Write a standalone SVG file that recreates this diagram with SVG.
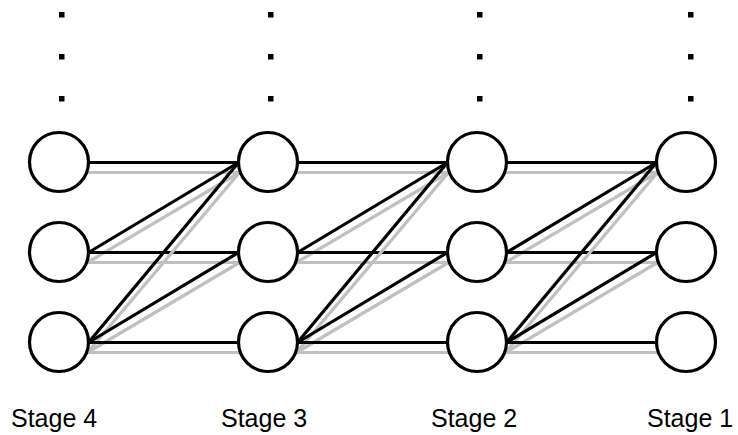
<svg xmlns="http://www.w3.org/2000/svg" width="738" height="435" viewBox="0 0 738 435">
  <style>
    .node { fill: #ffffff; stroke: #000000; stroke-width: 3.2; }
    .k { stroke: #000000; stroke-width: 3.2; fill: none; }
    .g { stroke: #c0c0c0; stroke-width: 3.2; fill: none; }
    .dot { fill: #000000; }
    .label { font-family: "Liberation Sans", Arial, sans-serif; font-size: 25px; fill: #000000; }
  </style>

  <!-- continuation dots above each stage -->
  <g id="dots">
    <rect class="dot" x="59" y="12" width="5.5" height="5.5"/>
    <rect class="dot" x="59" y="54" width="5.5" height="5.5"/>
    <rect class="dot" x="59" y="96" width="5.5" height="5.5"/>
    <rect class="dot" x="268" y="12" width="5.5" height="5.5"/>
    <rect class="dot" x="268" y="54" width="5.5" height="5.5"/>
    <rect class="dot" x="268" y="96" width="5.5" height="5.5"/>
    <rect class="dot" x="477" y="12" width="5.5" height="5.5"/>
    <rect class="dot" x="477" y="54" width="5.5" height="5.5"/>
    <rect class="dot" x="477" y="96" width="5.5" height="5.5"/>
    <rect class="dot" x="688" y="12" width="5.5" height="5.5"/>
    <rect class="dot" x="688" y="54" width="5.5" height="5.5"/>
    <rect class="dot" x="688" y="96" width="5.5" height="5.5"/>
  </g>

  <!-- connectors: black link with grey companion 10px below -->
  <g id="connectors">
    <!-- Stage 4 -> Stage 3 -->
    <line class="k" x1="88.5" y1="162.5" x2="238.5" y2="162.5"/>
    <line class="g" x1="87.5" y1="172.5" x2="239.5" y2="172.5"/>
    <line class="k" x1="88.5" y1="252.5" x2="238.5" y2="162.5"/>
    <line class="g" x1="87.5" y1="262.5" x2="239.5" y2="172.5"/>
    <line class="k" x1="88.5" y1="252.5" x2="238.5" y2="252.5"/>
    <line class="g" x1="87.5" y1="262.5" x2="239.5" y2="262.5"/>
    <line class="k" x1="88.5" y1="342.5" x2="238.5" y2="162.5"/>
    <line class="g" x1="87.5" y1="352.5" x2="239.5" y2="172.5"/>
    <line class="k" x1="88.5" y1="342.5" x2="238.5" y2="252.5"/>
    <line class="g" x1="87.5" y1="352.5" x2="239.5" y2="262.5"/>
    <line class="k" x1="88.5" y1="342.5" x2="238.5" y2="342.5"/>
    <line class="g" x1="87.5" y1="352.5" x2="239.5" y2="352.5"/>

    <!-- Stage 3 -> Stage 2 -->
    <line class="k" x1="297.5" y1="162.5" x2="447.5" y2="162.5"/>
    <line class="g" x1="296.5" y1="172.5" x2="448.5" y2="172.5"/>
    <line class="k" x1="297.5" y1="252.5" x2="447.5" y2="162.5"/>
    <line class="g" x1="296.5" y1="262.5" x2="448.5" y2="172.5"/>
    <line class="k" x1="297.5" y1="252.5" x2="447.5" y2="252.5"/>
    <line class="g" x1="296.5" y1="262.5" x2="448.5" y2="262.5"/>
    <line class="k" x1="297.5" y1="342.5" x2="447.5" y2="162.5"/>
    <line class="g" x1="296.5" y1="352.5" x2="448.5" y2="172.5"/>
    <line class="k" x1="297.5" y1="342.5" x2="447.5" y2="252.5"/>
    <line class="g" x1="296.5" y1="352.5" x2="448.5" y2="262.5"/>
    <line class="k" x1="297.5" y1="342.5" x2="447.5" y2="342.5"/>
    <line class="g" x1="296.5" y1="352.5" x2="448.5" y2="352.5"/>

    <!-- Stage 2 -> Stage 1 -->
    <line class="k" x1="506.5" y1="162.5" x2="656.5" y2="162.5"/>
    <line class="g" x1="505.5" y1="172.5" x2="657.5" y2="172.5"/>
    <line class="k" x1="506.5" y1="252.5" x2="656.5" y2="162.5"/>
    <line class="g" x1="505.5" y1="262.5" x2="657.5" y2="172.5"/>
    <line class="k" x1="506.5" y1="252.5" x2="656.5" y2="252.5"/>
    <line class="g" x1="505.5" y1="262.5" x2="657.5" y2="262.5"/>
    <line class="k" x1="506.5" y1="342.5" x2="656.5" y2="162.5"/>
    <line class="g" x1="505.5" y1="352.5" x2="657.5" y2="172.5"/>
    <line class="k" x1="506.5" y1="342.5" x2="656.5" y2="252.5"/>
    <line class="g" x1="505.5" y1="352.5" x2="657.5" y2="262.5"/>
    <line class="k" x1="506.5" y1="342.5" x2="656.5" y2="342.5"/>
    <line class="g" x1="505.5" y1="352.5" x2="657.5" y2="352.5"/>
  </g>

  <!-- Stage 4 -->
  <g id="stage4-n1"><circle class="node" cx="59" cy="162" r="29.5"/></g>
  <g id="stage4-n2"><circle class="node" cx="59" cy="252" r="29.5"/></g>
  <g id="stage4-n3"><circle class="node" cx="59" cy="342" r="29.5"/></g>
  <!-- Stage 3 -->
  <g id="stage3-n1"><circle class="node" cx="268" cy="162" r="29.5"/></g>
  <g id="stage3-n2"><circle class="node" cx="268" cy="252" r="29.5"/></g>
  <g id="stage3-n3"><circle class="node" cx="268" cy="342" r="29.5"/></g>
  <!-- Stage 2 -->
  <g id="stage2-n1"><circle class="node" cx="477" cy="162" r="29.5"/></g>
  <g id="stage2-n2"><circle class="node" cx="477" cy="252" r="29.5"/></g>
  <g id="stage2-n3"><circle class="node" cx="477" cy="342" r="29.5"/></g>
  <!-- Stage 1 -->
  <g id="stage1-n1"><circle class="node" cx="686" cy="162" r="29.5"/></g>
  <g id="stage1-n2"><circle class="node" cx="686" cy="252" r="29.5"/></g>
  <g id="stage1-n3"><circle class="node" cx="686" cy="342" r="29.5"/></g>

  <!-- stage labels -->
  <g id="labels">
    <text class="label" x="11" y="427">Stage 4</text>
    <text class="label" x="221" y="427">Stage 3</text>
    <text class="label" x="431" y="427">Stage 2</text>
    <text class="label" x="647" y="427">Stage 1</text>
  </g>
</svg>
